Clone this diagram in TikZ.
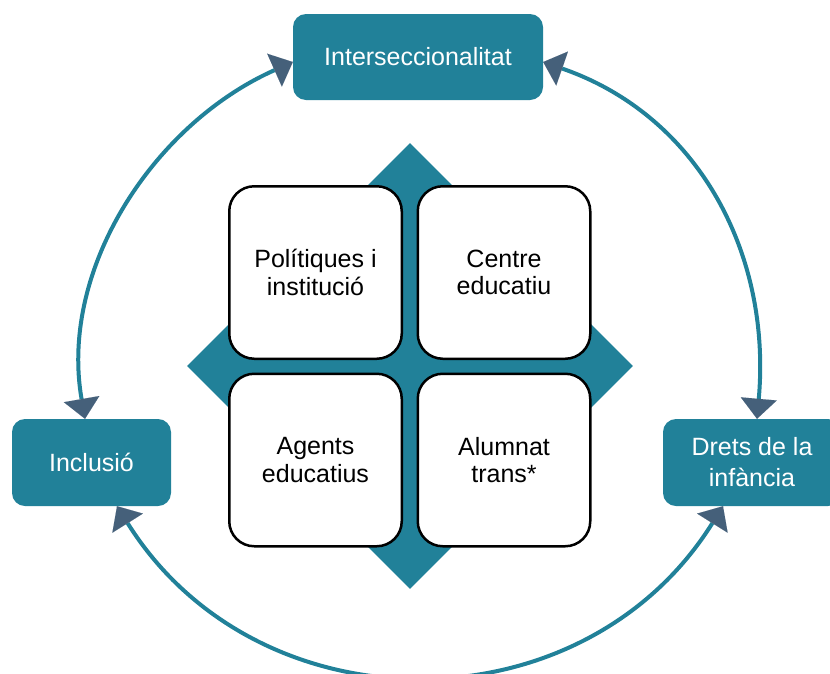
\documentclass[tikz,border=0pt]{standalone}
\usepackage{fontspec}
\setmainfont{Liberation Sans}
\usetikzlibrary{arrows.meta,shapes.geometric}
\definecolor{tealfill}{RGB}{33,129,153}
\definecolor{tipcol}{RGB}{69,96,122}
\begin{document}
\begin{tikzpicture}[x=1pt,y=-1pt,
  outerbox/.style={draw=none, fill=tealfill, rounded corners=13pt, text=white,
    font=\fontsize{25}{31}\selectfont, align=center, inner sep=0pt, minimum height=86pt},
  innerbox/.style={draw=black, line width=2.5pt, fill=white, rounded corners=25pt,
    minimum width=172.5pt, minimum height=172.5pt, inner sep=0pt,
    font=\fontsize{25}{27.7}\selectfont, align=center},
  headtip/.tip={Triangle[length=20pt,width=36pt,color=tipcol,line width=0.01pt]},
  link/.style={draw=tealfill, line width=4pt, headtip-headtip}
]
\useasboundingbox (0,0) rectangle (830,673);

% central diamond
\node[diamond, fill=tealfill, minimum width=446pt, minimum height=446pt, inner sep=0pt] (dia) at (410,366) {};

% inner boxes
\node[innerbox] (pol) at (315.5,272.5) {Polítiques i\\institució};
\node[innerbox] (cen) at (504,272.5) {Centre\\educatiu};
\node[innerbox] (age) at (315.5,460) {Agents\\educatius};
\node[innerbox] (alu) at (504,460) {Alumnat\\trans*};

% outer boxes
\node[outerbox, minimum width=250pt] (inter) at (418,57) {Interseccionalitat};
\node[outerbox, minimum width=159pt, minimum height=87pt] (incl) at (91.5,462.5) {Inclusió};
\node[outerbox, minimum width=178pt, minimum height=87pt] (drets) at (752,462.5) {Drets de la\\infància};

% connectors
\draw[link] ([yshift=-5pt]inter.west) .. controls +(-139,62) and +(-26,-150) .. ([xshift=-6.5pt]incl.north);
\draw[link] ([yshift=-5pt]inter.east) .. controls +(156,54) and +(14.5,-164) .. ([xshift=5pt]drets.north);
\draw[link] ([xshift=25.5pt]incl.south) .. controls +(141,225) and +(-141,225) .. ([xshift=-29pt]drets.south);
\end{tikzpicture}
\end{document}
